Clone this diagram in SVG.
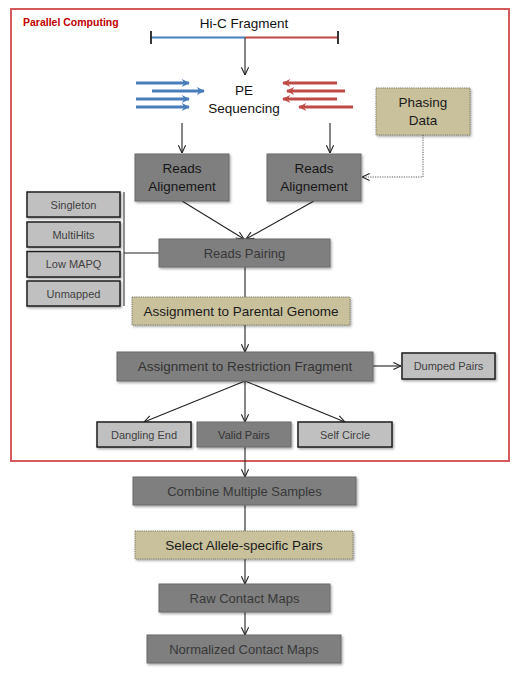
<svg xmlns="http://www.w3.org/2000/svg" width="517" height="679" viewBox="0 0 517 679">
<defs>
<marker id="open" viewBox="0 0 10 10" refX="9.5" refY="5" markerWidth="9" markerHeight="9" markerUnits="userSpaceOnUse" orient="auto">
<path d="M1,1 L9.5,5 L1,9" fill="none" stroke="#222" stroke-width="1.2"/>
</marker>
<marker id="blueHead" viewBox="0 0 10 10" refX="9" refY="5" markerWidth="10" markerHeight="8" markerUnits="userSpaceOnUse" orient="auto">
<path d="M0,0 L10,5 L0,10 L3,5 Z" fill="#4a7ebb"/>
</marker>
<marker id="redHead" viewBox="0 0 10 10" refX="9" refY="5" markerWidth="10" markerHeight="8" markerUnits="userSpaceOnUse" orient="auto">
<path d="M0,0 L10,5 L0,10 L3,5 Z" fill="#be4b48"/>
</marker>
<filter id="sh" x="-10%" y="-20%" width="130%" height="150%">
<feDropShadow dx="1.2" dy="1.5" stdDeviation="0.8" flood-color="#000" flood-opacity="0.35"/>
</filter>
</defs>
<style>
text{font-family:"Liberation Sans","Noto Sans",Arial,sans-serif;text-anchor:middle;}
.dark{fill:#7f7f7f;stroke:#6b6b6b;stroke-width:1;filter:url(#sh);}
.light{fill:#c0c0c0;stroke:#1e1e1e;stroke-width:1.5;filter:url(#sh);}
.tan{fill:#c9c19b;stroke:#7a7560;stroke-width:1;stroke-dasharray:1.2 1;filter:url(#sh);}
.t13{font-size:13.5px;fill:#2a2a2a;}
.t12{font-size:13px;fill:#383838;}
.t11{font-size:11px;fill:#404040;}
.conn{stroke:#222;stroke-width:1.1;fill:none;}
.blue{stroke:#4a7ebb;stroke-width:3;fill:none;marker-end:url(#blueHead);}
.red{stroke:#be4b48;stroke-width:3;fill:none;marker-end:url(#redHead);}
</style>
<rect width="517" height="679" fill="#fff"/>
<rect x="11" y="9" width="498" height="452" fill="none" stroke="#d45a60" stroke-width="2"/>
<text x="23" y="26" style="font-size:10.5px;font-weight:bold;fill:#c00000;text-anchor:start">Parallel Computing</text>

<g id="fragment">
<text x="244" y="28" class="t13" style="fill:#111">Hi-C Fragment</text>
<line x1="151" y1="37.5" x2="245" y2="37.5" stroke="#4a7ebb" stroke-width="2.2"/>
<line x1="245" y1="37.5" x2="338" y2="37.5" stroke="#be4b48" stroke-width="2.2"/>
<line x1="151" y1="31" x2="151" y2="44" stroke="#222" stroke-width="1.8"/>
<line x1="338" y1="31" x2="338" y2="44" stroke="#222" stroke-width="1.8"/>
</g>

<g id="pe">
<line class="blue" x1="136" y1="83" x2="189" y2="83"/>
<line class="blue" x1="152" y1="91" x2="204" y2="91"/>
<line class="blue" x1="136" y1="99" x2="189" y2="99"/>
<line class="blue" x1="136" y1="107" x2="189" y2="107"/>
<line class="red" x1="337" y1="83" x2="283" y2="83"/>
<line class="red" x1="345" y1="91" x2="287" y2="91"/>
<line class="red" x1="337" y1="99" x2="283" y2="99"/>
<line class="red" x1="353" y1="107" x2="299" y2="107"/>
<text x="244" y="95" class="t13" style="fill:#111">PE</text>
<text x="244" y="113" class="t13" style="fill:#111">Sequencing</text>
</g>

<g id="connectors">
<line class="conn" x1="245" y1="38" x2="245" y2="75" marker-end="url(#open)"/>
<line class="conn" x1="182" y1="123" x2="182" y2="153" marker-end="url(#open)"/>
<line class="conn" x1="330" y1="123" x2="330" y2="153" marker-end="url(#open)"/>
<polyline points="423,135 423,177 362,177" fill="none" stroke="#555" stroke-width="1" stroke-dasharray="1.2 1.2" marker-end="url(#open)"/>
<line class="conn" x1="182" y1="201" x2="244" y2="239" marker-end="url(#open)"/>
<line class="conn" x1="314" y1="201" x2="246" y2="239" marker-end="url(#open)"/>
<line x1="124" y1="192" x2="124" y2="306" stroke="#222" stroke-width="1"/>
<line x1="124" y1="253" x2="159" y2="253" stroke="#222" stroke-width="1"/>
<line class="conn" x1="245" y1="267" x2="245" y2="297"/>
<line class="conn" x1="245" y1="325" x2="245" y2="352" marker-end="url(#open)"/>
<line class="conn" x1="373" y1="366" x2="401" y2="366" marker-end="url(#open)"/>
<line class="conn" x1="245" y1="381" x2="144" y2="422" marker-end="url(#open)"/>
<line class="conn" x1="245" y1="381" x2="245" y2="422" marker-end="url(#open)"/>
<line class="conn" x1="245" y1="381" x2="345" y2="422" marker-end="url(#open)"/>
<line class="conn" x1="245" y1="447" x2="245" y2="477" marker-end="url(#open)"/>
<line class="conn" x1="245" y1="505" x2="245" y2="531"/>
<line class="conn" x1="245" y1="559" x2="245" y2="584" marker-end="url(#open)"/>
<line class="conn" x1="245" y1="612" x2="245" y2="635" marker-end="url(#open)"/>
</g>

<g id="phasing">
<rect class="tan" x="376" y="88" width="94" height="47"/>
<text x="423" y="107" class="t13" style="fill:#1a1a1a">Phasing</text>
<text x="423" y="125" class="t13" style="fill:#1a1a1a">Data</text>
</g>

<g id="align1">
<rect class="dark" x="135" y="154" width="94" height="47"/>
<text x="182" y="173" class="t13" style="fill:#161616">Reads</text>
<text x="182" y="191" class="t13" style="fill:#161616">Alignement</text>
</g>
<g id="align2">
<rect class="dark" x="267" y="154" width="94" height="47"/>
<text x="314" y="173" class="t13" style="fill:#161616">Reads</text>
<text x="314" y="191" class="t13" style="fill:#161616">Alignement</text>
</g>

<g id="singleton"><rect class="light" x="27" y="192" width="93" height="25"/><text x="73.5" y="209" class="t11">Singleton</text></g>
<g id="multihits"><rect class="light" x="27" y="222" width="93" height="25"/><text x="73.5" y="239" class="t11">MultiHits</text></g>
<g id="lowmapq"><rect class="light" x="27" y="251.5" width="93" height="25.5"/><text x="73.5" y="268" class="t11">Low MAPQ</text></g>
<g id="unmapped"><rect class="light" x="27" y="281" width="93" height="25"/><text x="73.5" y="298" class="t11">Unmapped</text></g>

<g id="pairing">
<rect class="dark" x="159" y="239" width="171" height="28"/>
<text x="244.5" y="258" class="t12">Reads Pairing</text>
</g>

<g id="parental">
<rect class="tan" x="132" y="297" width="218" height="28"/>
<text x="241" y="315.5" class="t13" style="fill:#1a1a1a">Assignment to Parental Genome</text>
</g>

<g id="restriction">
<rect class="dark" x="117" y="352" width="256" height="29"/>
<text x="245" y="371" class="t13" style="fill:#333">Assignment to Restriction Fragment</text>
</g>

<g id="dumped"><rect class="light" x="402" y="353" width="93" height="26"/><text x="448.5" y="370" class="t11">Dumped Pairs</text></g>
<g id="dangling"><rect class="light" x="97" y="422" width="94" height="25"/><text x="144" y="439" class="t11">Dangling End</text></g>
<g id="valid"><rect class="dark" x="197" y="422" width="94" height="25"/><text x="244" y="439" class="t11" style="fill:#333">Valid Pairs</text></g>
<g id="selfcircle"><rect class="light" x="298" y="422" width="94" height="25"/><text x="345" y="439" class="t11">Self Circle</text></g>

<g id="combine">
<rect class="dark" x="133" y="477" width="223" height="28"/>
<text x="244.5" y="496" class="t12">Combine Multiple Samples</text>
</g>
<g id="allele">
<rect class="tan" x="135" y="531" width="218" height="28"/>
<text x="244" y="550" class="t13" style="fill:#1a1a1a">Select Allele-specific Pairs</text>
</g>
<g id="raw">
<rect class="dark" x="159" y="584" width="171" height="28"/>
<text x="244.5" y="603" class="t12">Raw Contact Maps</text>
</g>
<g id="normalized">
<rect class="dark" x="147" y="635" width="194" height="28"/>
<text x="244" y="654" class="t12">Normalized Contact Maps</text>
</g>
</svg>
